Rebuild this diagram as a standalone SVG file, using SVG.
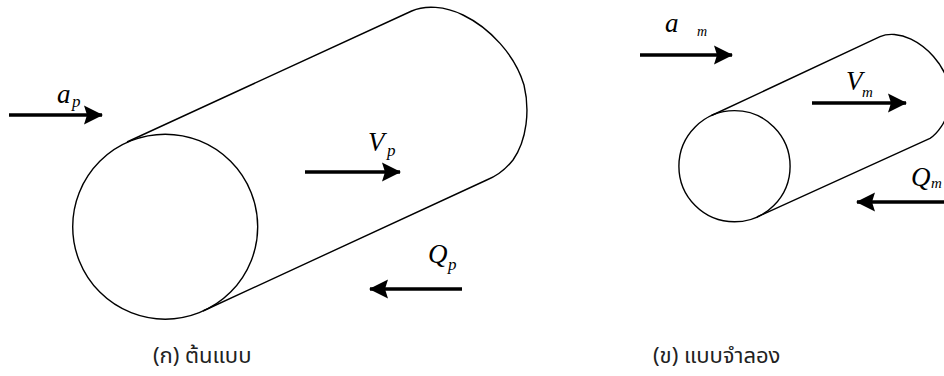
<svg xmlns="http://www.w3.org/2000/svg" width="944" height="376" viewBox="0 0 944 376">
  <style>
    .outline { fill: none; stroke: #000; stroke-width: 1.4; stroke-linejoin: round; }
    .shaft { stroke: #000; stroke-width: 3.6; fill: none; }
    .sym { font-family: "Liberation Serif", "Times New Roman", serif; font-style: italic; fill: #000; }
    .main { font-size: 27px; }
    .sub { font-size: 17px; }
    .cap { font-family: "Noto Sans Thai", "Noto Sans", "DejaVu Sans", sans-serif; font-size: 22px; fill: #222; }
  </style>
  <defs>
    <marker id="head" viewBox="0 0 20 20" refX="18" refY="10" markerUnits="userSpaceOnUse" markerWidth="20" markerHeight="20" orient="auto">
      <path d="M0,0.5 L19,10 L0,19.5 L3,10 Z" fill="#000"/>
    </marker>
  </defs>
  <rect width="944" height="376" fill="#fff"/>

  <!-- prototype pipe -->
  <g id="prototype">
    <circle class="outline" cx="165.2" cy="226.7" r="92.5"/>
    <path class="outline" d="M127,142 L411.7,11 C425,5 445,6 463,15 C490,28 515,55 524,85 C530,110 527,140 513,160 C505,170 497,176 486.7,180 L203,311"/>
  </g>

  <!-- scale model pipe -->
  <g id="model">
    <circle class="outline" cx="734.5" cy="166.2" r="55.6"/>
    <path class="outline" d="M711.5,115.5 L880,36.7 C888,33.1 900.1,33.7 911,39.1 C927.3,47 942.4,63.3 947.8,81.4 C951.5,96.5 949.6,114.6 941.2,126.7 C937,133 934,136 930,138.3 L757,217"/>
  </g>

  <!-- flow arrows -->
  <g id="connectors">
    <line class="shaft" x1="9" y1="115" x2="102" y2="115" marker-end="url(#head)"/>
    <line class="shaft" x1="305" y1="172" x2="400" y2="172" marker-end="url(#head)"/>
    <line class="shaft" x1="462" y1="289" x2="370" y2="289" marker-end="url(#head)"/>
    <line class="shaft" x1="640" y1="55" x2="732" y2="55" marker-end="url(#head)"/>
    <line class="shaft" x1="812" y1="103" x2="906" y2="103" marker-end="url(#head)"/>
    <line class="shaft" x1="950" y1="202" x2="857" y2="202" marker-end="url(#head)"/>
  </g>

  <!-- symbols -->
  <g id="label-ap">
    <text class="sym main" x="57" y="103">a</text>
    <text class="sym sub" x="72" y="107">p</text>
  </g>
  <g id="label-vp">
    <text class="sym main" x="368" y="151">V</text>
    <text class="sym sub" x="387" y="156">p</text>
  </g>
  <g id="label-qp">
    <text class="sym main" x="428" y="263">Q</text>
    <text class="sym sub" x="448" y="270">p</text>
  </g>
  <g id="label-am">
    <text class="sym main" x="665" y="32">a</text>
    <text class="sym sub" x="697" y="36" style="font-size:14px">m</text>
  </g>
  <g id="label-vm">
    <text class="sym main" x="846" y="90">V</text>
    <text class="sym sub" x="862" y="97" style="font-size:15px">m</text>
  </g>
  <g id="label-qm">
    <text class="sym main" x="911" y="186">Q</text>
    <text class="sym sub" x="931" y="188" style="font-size:15px">m</text>
  </g>

  <!-- captions -->
  <g id="caption-prototype">
    <text class="cap" x="153" y="363">(ก) ต้นแบบ</text>
  </g>
  <g id="caption-model">
    <text class="cap" x="653" y="363">(ข) แบบจำลอง</text>
  </g>
</svg>
